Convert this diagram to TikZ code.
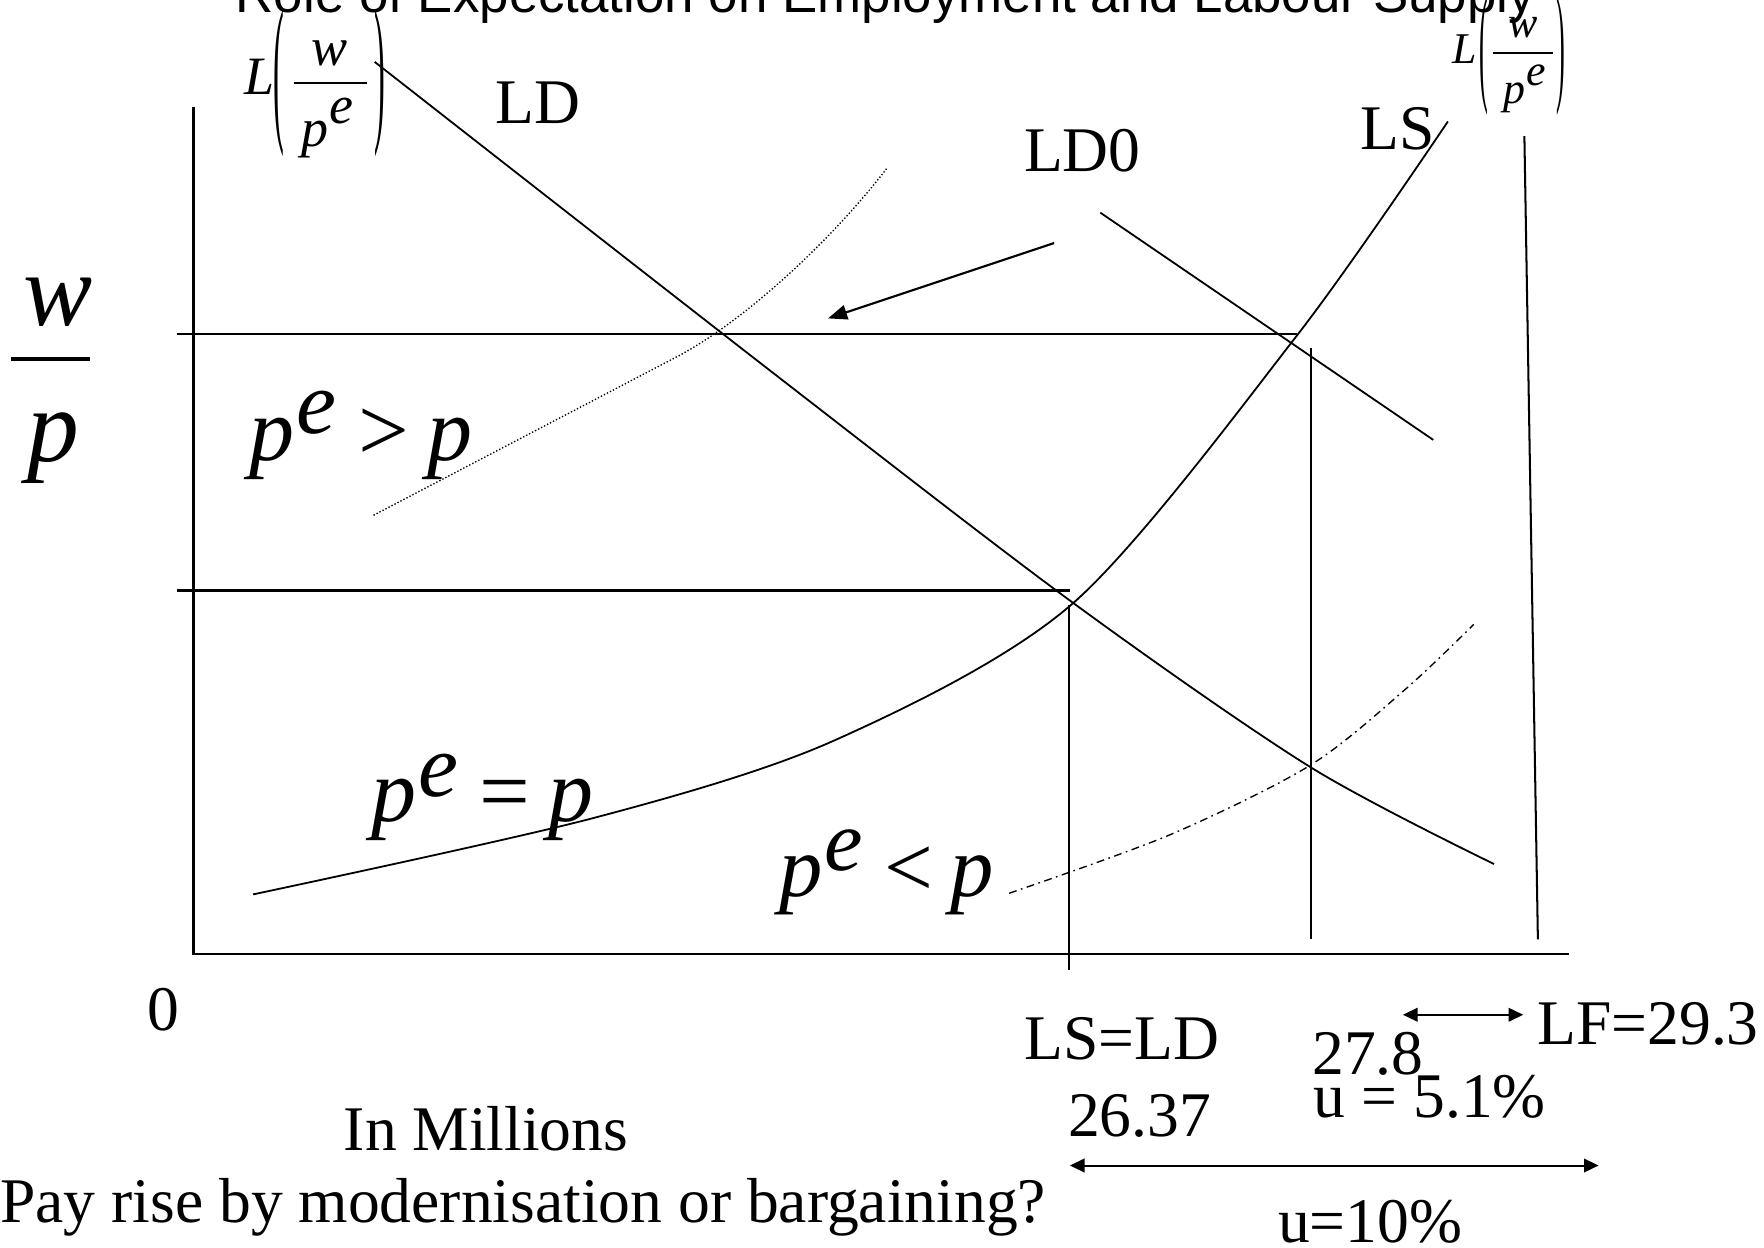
\documentclass[tikz,border=0pt]{standalone}
\usepackage{graphicx}
\usepackage{fontspec}
\setmainfont{Liberation Serif}
\newfontfamily\titlefont{Liberation Sans}
\usetikzlibrary{arrows.meta}
\newcommand{\mfont}[1]{\fontsize{#1}{#1}\selectfont}
\tikzset{
  lbl/.style={inner sep=0pt, anchor=base, font=\mfont{56.5}},
  mi/.style={inner sep=0pt, anchor=base, font=\mfont{#1}\itshape},
  eq/.style={inner sep=0pt, anchor=base west, font=\mfont{#1}\itshape},
  curve/.style={line width=1.6pt},
  axis/.style={line width=2.2pt},
  guide/.style={line width=1.8pt},
  dotcurve/.style={line width=1.2pt, dash pattern=on 1.2pt off 1.8pt},
  dashdot/.style={line width=1.2pt, dash pattern=on 7pt off 4pt on 1.5pt off 4pt},
  tip/.style={-{Triangle[length=17pt,width=13pt]}},
  dtip/.style={{Triangle[length=13pt,width=12pt]}-{Triangle[length=13pt,width=12pt]}},
  paren/.style={inner sep=0pt},
}
\begin{document}
\begin{tikzpicture}[x=1pt,y=-1pt]
\useasboundingbox (0,0) rectangle (1568,1109);
% title (cut off at top)
\node[inner sep=0pt, anchor=base, font=\titlefont\mfont{47}] (title) at (787,11) {Role of Expectation on Employment and Labour Supply};

% axes
\coordinate (O) at (172,848);
\coordinate (ytop) at (172,95);
\coordinate (xend) at (1395,848);
\draw[axis] (ytop) -- (O) -- (xend);

% horizontal guides
\coordinate (h1a) at (157,297); \coordinate (h1b) at (1153,297);
\coordinate (h2a) at (157,525); \coordinate (h2b) at (951,525);
\draw[axis] (h1a) -- (h1b);
\draw[axis] (h2a) -- (h2b);

% vertical guides
\coordinate (v1a) at (950,538); \coordinate (v1b) at (950,862);
\coordinate (v2a) at (1165,309); \coordinate (v2b) at (1165,835);
\coordinate (v3a) at (1355,121); \coordinate (v3b) at (1367,835);
\draw[guide] (v1a) -- (v1b);
\draw[guide] (v2a) -- (v2b);
\draw[guide] (v3a) -- (v3b);

% LD curve
\draw[curve] plot[smooth, tension=0.5] coordinates {(333,55) (693,336) (954,536) (1165,682) (1328,768)};
% LS curve
\draw[curve] plot[smooth, tension=0.5] coordinates {(225,795) (528,727) (742,658) (954,536) (1153,298) (1287,108)};
% LD0 line
\coordinate (ld0a) at (978,189); \coordinate (ld0b) at (1274,391);
\draw[curve] (ld0a) -- (ld0b);
% shift arrow
\coordinate (arra) at (937,216); \coordinate (arrb) at (736,283);
\draw[curve, line width=1.9pt, tip] (arra) -- (arrb);
% dotted curve (p^e > p)
\coordinate (dta) at (332,458); \coordinate (dtm) at (600,318); \coordinate (dtb) at (788,150);
\draw[dotcurve] (dta) -- (dtm) .. controls (660,287) and (738,215) .. (dtb);
% dash-dot curve (p^e < p)
\draw[dashdot] plot[smooth, tension=0.5] coordinates {(897,794) (1040,742) (1165,680) (1250,612) (1310,555)};

% double arrows
\coordinate (da1) at (1247,902); \coordinate (da2) at (1354,902);
\draw[line width=1.8pt, dtip] (da1) -- (da2);
\coordinate (db1) at (951,1036); \coordinate (db2) at (1421,1036);
\draw[line width=1.8pt, dtip] (db1) -- (db2);

% y-axis label w/p
\node[mi=92] (yw) at (52,289) {w};
\coordinate (ybara) at (10,319); \coordinate (ybarb) at (80,319);
\draw[line width=3pt] (ybara) -- (ybarb);
\node[mi=92] (yp) at (47,410) {p};

% L(w/p^e) left
\node[mi=48] (lL) at (231,84) {L};
\node[paren] (llp) at (248,74) {\mfont{48}\scalebox{0.6}[3]{(}};
\node[mi=48] (lw) at (293,58) {w};
\coordinate (lba) at (261,74); \coordinate (lbb) at (326,74);
\draw[line width=1.5pt] (lba) -- (lbb);
\node[mi=48] (lpe) at (291,130) {p\kern0.02em\raisebox{0.42em}{e}};
\node[paren] (lrp) at (337.5,74) {\mfont{48}\scalebox{0.6}[3]{)}};

% L(w/p^e) right
\node[mi=39] (rL) at (1302,56) {L};
\node[paren] (rlp) at (1319,50) {\mfont{39}\scalebox{0.6}[3]{(}};
\node[mi=39] (rw) at (1354,33) {w};
\coordinate (rba) at (1327,47); \coordinate (rbb) at (1380,47);
\draw[line width=1.3pt] (rba) -- (rbb);
\node[mi=39] (rpe) at (1355,92) {p\kern0.02em\raisebox{0.42em}{e}};
\node[paren] (rrp) at (1387.5,50) {\mfont{39}\scalebox{0.6}[3]{)}};

% region labels
\node[eq=80] (pgt) at (222,409) {p\kern0.02em\raisebox{0.3em}{e}\hspace{0.24em}{\upshape >}\hspace{0.2em}p};
\node[eq=80] (peq) at (330,730) {p\kern0.02em\raisebox{0.28em}{e}\hspace{0.24em}{\upshape =}\hspace{0.2em}p};
\node[eq=77] (plt) at (693,797) {p\kern0.02em\raisebox{0.3em}{e}\hspace{0.24em}{\upshape <}\hspace{0.2em}p};

% text labels
\node[lbl] (LD) at (478,110) {LD};
\node[lbl] (LD0) at (962,152) {LD0};
\node[lbl] (LS) at (1242,133) {LS};
\node[lbl] (zero) at (145,916) {0};
\node[lbl] (lseq) at (997,942) {LS=LD};
\node[lbl] (n2637) at (1013,1010) {26.37};
\node[lbl] (n278) at (1216,955) {27.8};
\node[lbl] (u51) at (1271,993) {u = 5.1\%};
\node[lbl] (lf) at (1465,928) {LF=29.3};
\node[lbl] (u10) at (1218,1104) {u=10\%};
\node[lbl] (mill) at (432,1023) {In Millions};
\node[lbl] (pay) at (465,1087) {Pay rise by modernisation or bargaining?};
\end{tikzpicture}
\end{document}
